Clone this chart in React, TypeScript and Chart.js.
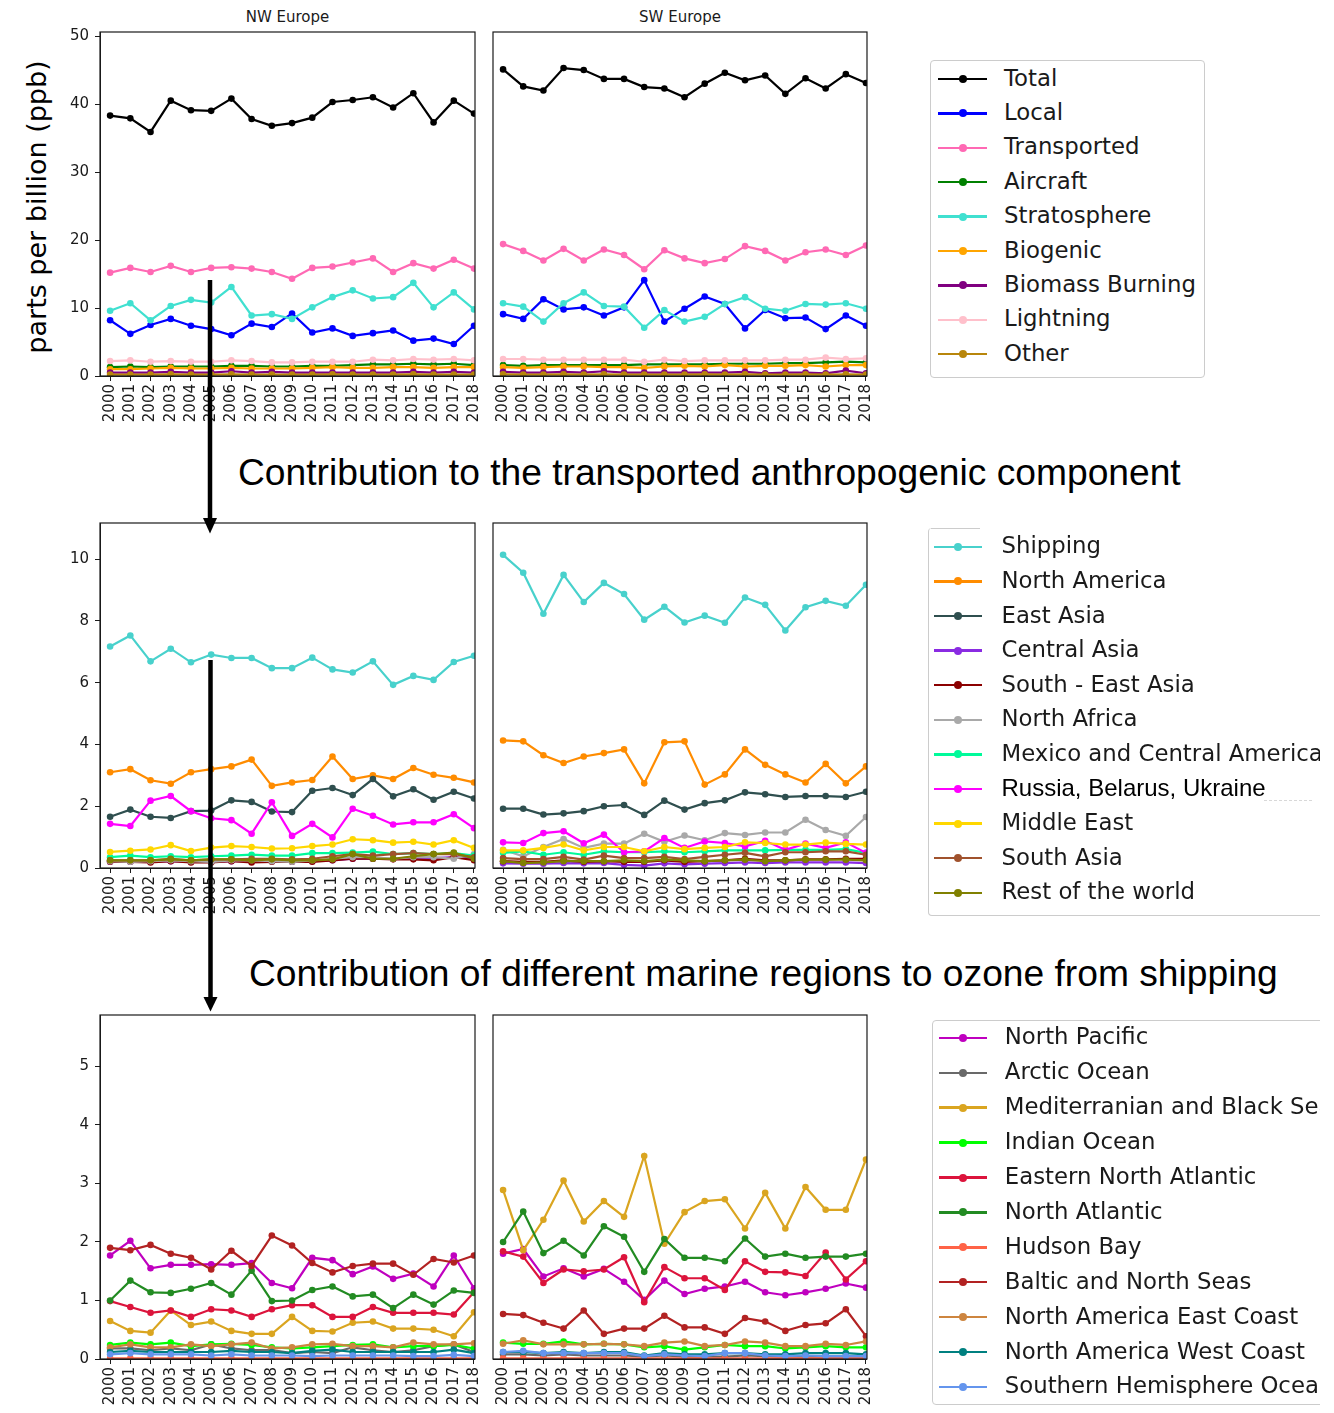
import React, { useEffect, useRef } from "react";
import { Chart, registerables } from "chart.js";

Chart.register(...registerables);
Chart.defaults.font.family = "'DejaVu Sans', sans-serif";

// ---------------- common ----------------
const years = [2000, 2001, 2002, 2003, 2004, 2005, 2006, 2007, 2008, 2009, 2010, 2011, 2012, 2013, 2014, 2015, 2016, 2017, 2018];
const panelTitles = ["NW Europe", "SW Europe"];
const yAxisLabel = "parts per billion (ppb)";
const caption1 = "Contribution to the transported anthropogenic component";
const caption2 = "Contribution of different marine regions to ozone from shipping";

// ---------------- row 1: total ozone components ----------------
const topLabels = ["Total", "Local", "Transported", "Aircraft", "Stratosphere", "Biogenic", "Biomass Burning", "Lightning", "Other"];
const topColors = ["#000000", "#0000ff", "#ff69b4", "#008000", "#40e0d0", "#ffa500", "#800080", "#ffc0cb", "#b8860b"];
const topTicks = [0, 10, 20, 30, 40, 50];

const nwTotal = [38.3, 37.9, 35.9, 40.5, 39.1, 39.0, 40.8, 37.8, 36.8, 37.2, 38.0, 40.3, 40.6, 41.0, 39.5, 41.6, 37.3, 40.5, 38.6];
const nwLocal = [8.2, 6.2, 7.5, 8.4, 7.4, 6.9, 6.0, 7.7, 7.2, 9.2, 6.4, 7.0, 5.9, 6.3, 6.7, 5.2, 5.5, 4.7, 7.4];
const nwTransported = [15.2, 15.9, 15.3, 16.2, 15.3, 15.9, 16.0, 15.8, 15.3, 14.3, 15.9, 16.1, 16.7, 17.3, 15.3, 16.6, 15.8, 17.1, 15.8];
const nwAircraft = [1.3, 1.4, 1.3, 1.4, 1.4, 1.4, 1.5, 1.5, 1.4, 1.4, 1.5, 1.5, 1.6, 1.7, 1.7, 1.8, 1.7, 1.8, 1.6];
const nwStratosphere = [9.6, 10.7, 8.2, 10.3, 11.2, 10.8, 13.1, 8.9, 9.1, 8.4, 10.1, 11.6, 12.6, 11.4, 11.6, 13.7, 10.1, 12.3, 9.8];
const nwBiogenic = [1.0, 1.0, 1.1, 1.2, 1.1, 1.1, 1.2, 1.1, 1.1, 1.1, 1.2, 1.3, 1.2, 1.2, 1.3, 1.3, 1.2, 1.3, 1.3];
const nwBiomass = [0.5, 0.5, 0.5, 0.6, 0.5, 0.5, 0.7, 0.5, 0.6, 0.5, 0.5, 0.5, 0.5, 0.5, 0.5, 0.6, 0.5, 0.6, 0.5];
const nwLightning = [2.2, 2.3, 2.1, 2.2, 2.1, 2.1, 2.3, 2.2, 2.0, 2.0, 2.1, 2.1, 2.1, 2.4, 2.3, 2.5, 2.4, 2.5, 2.3];
const nwOther = [0.2, 0.2, 0.2, 0.25, 0.2, 0.2, 0.25, 0.2, 0.2, 0.2, 0.2, 0.25, 0.2, 0.2, 0.2, 0.25, 0.2, 0.2, 0.2];

const swTotal = [45.1, 42.6, 42.0, 45.3, 45.0, 43.7, 43.7, 42.5, 42.3, 41.0, 43.0, 44.6, 43.5, 44.2, 41.5, 43.8, 42.3, 44.4, 43.1];
const swLocal = [9.1, 8.4, 11.3, 9.8, 10.1, 8.9, 10.1, 14.1, 8.0, 9.9, 11.7, 10.6, 7.0, 9.7, 8.5, 8.6, 6.9, 8.9, 7.4];
const swTransported = [19.4, 18.4, 17.0, 18.7, 17.0, 18.6, 17.8, 15.7, 18.5, 17.3, 16.6, 17.2, 19.1, 18.4, 17.0, 18.2, 18.6, 17.8, 19.2];
const swAircraft = [1.6, 1.5, 1.6, 1.6, 1.6, 1.6, 1.6, 1.7, 1.7, 1.7, 1.7, 1.8, 1.8, 1.8, 1.9, 1.9, 2.0, 2.1, 2.0];
const swStratosphere = [10.7, 10.2, 8.0, 10.7, 12.3, 10.3, 10.2, 7.1, 9.7, 8.0, 8.7, 10.6, 11.6, 9.9, 9.6, 10.6, 10.5, 10.7, 9.9];
const swBiogenic = [1.3, 1.2, 1.3, 1.4, 1.4, 1.3, 1.3, 1.2, 1.4, 1.5, 1.4, 1.6, 1.4, 1.5, 1.5, 1.6, 1.4, 1.6, 1.6];
const swBiomass = [0.6, 0.5, 0.5, 0.6, 0.5, 0.7, 0.5, 0.5, 0.5, 0.5, 0.5, 0.5, 0.6, 0.4, 0.5, 0.5, 0.4, 0.8, 0.4];
const swLightning = [2.5, 2.5, 2.4, 2.4, 2.4, 2.4, 2.4, 2.1, 2.4, 2.2, 2.3, 2.3, 2.3, 2.3, 2.4, 2.4, 2.7, 2.5, 2.6];
const swOther = [0.25, 0.2, 0.2, 0.25, 0.2, 0.25, 0.2, 0.2, 0.2, 0.2, 0.25, 0.2, 0.25, 0.2, 0.2, 0.25, 0.2, 0.25, 0.2];

// ---------------- row 2: transported anthropogenic ----------------
const midLabels = ["Shipping", "North America", "East Asia", "Central Asia", "South - East Asia", "North Africa", "Mexico and Central America", "Russia, Belarus, Ukraine", "Middle East", "South Asia", "Rest of the world"];
const midColors = ["#48d1cc", "#ff8c00", "#2f4f4f", "#8a2be2", "#8b0000", "#a9a9a9", "#00fa9a", "#ff00ff", "#ffd700", "#a0522d", "#808000"];
const midTicks = [0, 2, 4, 6, 8, 10];

const nwShipping = [7.17, 7.53, 6.69, 7.10, 6.66, 6.91, 6.80, 6.80, 6.47, 6.47, 6.81, 6.43, 6.33, 6.69, 5.93, 6.22, 6.09, 6.67, 6.87];
const nwNorthAmerica = [3.10, 3.20, 2.84, 2.73, 3.10, 3.20, 3.29, 3.51, 2.66, 2.77, 2.85, 3.61, 2.88, 3.00, 2.88, 3.24, 3.02, 2.92, 2.77];
const nwEastAsia = [1.66, 1.89, 1.66, 1.62, 1.84, 1.86, 2.19, 2.14, 1.83, 1.81, 2.50, 2.59, 2.36, 2.88, 2.32, 2.55, 2.21, 2.47, 2.25];
const nwCentralAsia = [0.20, 0.20, 0.20, 0.22, 0.20, 0.20, 0.22, 0.22, 0.22, 0.20, 0.22, 0.25, 0.30, 0.30, 0.30, 0.32, 0.32, 0.35, 0.30];
const nwSouthEastAsia = [0.20, 0.20, 0.18, 0.22, 0.18, 0.18, 0.22, 0.18, 0.20, 0.20, 0.20, 0.25, 0.30, 0.30, 0.28, 0.28, 0.25, 0.35, 0.25];
const nwNorthAfrica = [0.22, 0.20, 0.22, 0.25, 0.22, 0.20, 0.25, 0.25, 0.22, 0.20, 0.25, 0.30, 0.35, 0.35, 0.30, 0.35, 0.35, 0.30, 0.45];
const nwMexico = [0.35, 0.40, 0.35, 0.38, 0.35, 0.38, 0.40, 0.43, 0.40, 0.40, 0.48, 0.48, 0.50, 0.53, 0.45, 0.48, 0.45, 0.48, 0.40];
const nwRussia = [1.43, 1.36, 2.18, 2.33, 1.84, 1.61, 1.55, 1.11, 2.13, 1.04, 1.43, 0.99, 1.92, 1.69, 1.41, 1.48, 1.48, 1.74, 1.29];
const nwMiddleEast = [0.52, 0.56, 0.60, 0.74, 0.55, 0.66, 0.71, 0.68, 0.63, 0.64, 0.71, 0.76, 0.93, 0.90, 0.82, 0.85, 0.76, 0.90, 0.65];
const nwSouthAsia = [0.25, 0.25, 0.25, 0.30, 0.25, 0.28, 0.28, 0.30, 0.30, 0.28, 0.30, 0.38, 0.45, 0.40, 0.45, 0.48, 0.45, 0.45, 0.35];
const nwRestWorld = [0.25, 0.25, 0.25, 0.28, 0.25, 0.28, 0.28, 0.25, 0.28, 0.25, 0.25, 0.28, 0.45, 0.30, 0.30, 0.38, 0.45, 0.50, 0.30];

const swShipping = [10.14, 9.56, 8.23, 9.49, 8.61, 9.23, 8.87, 8.04, 8.46, 7.95, 8.17, 7.94, 8.76, 8.52, 7.69, 8.44, 8.65, 8.49, 9.17];
const swNorthAmerica = [4.13, 4.10, 3.65, 3.40, 3.61, 3.72, 3.84, 2.74, 4.07, 4.10, 2.70, 3.03, 3.84, 3.34, 3.03, 2.77, 3.37, 2.74, 3.29];
const swEastAsia = [1.92, 1.92, 1.73, 1.77, 1.84, 2.00, 2.04, 1.72, 2.18, 1.89, 2.10, 2.19, 2.45, 2.39, 2.30, 2.33, 2.33, 2.30, 2.47];
const swCentralAsia = [0.15, 0.14, 0.14, 0.16, 0.15, 0.16, 0.10, 0.08, 0.15, 0.12, 0.14, 0.16, 0.18, 0.16, 0.18, 0.18, 0.18, 0.18, 0.16];
const swSouthEastAsia = [0.22, 0.20, 0.20, 0.25, 0.20, 0.22, 0.20, 0.20, 0.25, 0.20, 0.22, 0.25, 0.30, 0.25, 0.25, 0.28, 0.28, 0.30, 0.30];
const swNorthAfrica = [0.59, 0.38, 0.68, 0.94, 0.65, 0.79, 0.79, 1.11, 0.85, 1.05, 0.90, 1.13, 1.07, 1.15, 1.15, 1.56, 1.23, 1.04, 1.65];
const swMexico = [0.49, 0.54, 0.43, 0.51, 0.43, 0.54, 0.51, 0.51, 0.54, 0.51, 0.54, 0.57, 0.57, 0.57, 0.59, 0.59, 0.59, 0.61, 0.49];
const swRussia = [0.83, 0.81, 1.13, 1.19, 0.80, 1.08, 0.51, 0.54, 0.97, 0.65, 0.86, 0.81, 0.70, 0.88, 0.59, 0.79, 0.65, 0.83, 0.49];
const swMiddleEast = [0.57, 0.57, 0.65, 0.76, 0.57, 0.68, 0.68, 0.54, 0.68, 0.61, 0.65, 0.68, 0.83, 0.81, 0.76, 0.76, 0.82, 0.78, 0.76];
const swSouthAsia = [0.32, 0.29, 0.29, 0.36, 0.27, 0.40, 0.32, 0.32, 0.36, 0.29, 0.36, 0.43, 0.49, 0.38, 0.51, 0.51, 0.54, 0.54, 0.43];
const swRestWorld = [0.22, 0.16, 0.18, 0.22, 0.22, 0.22, 0.25, 0.22, 0.27, 0.25, 0.22, 0.25, 0.27, 0.22, 0.25, 0.27, 0.27, 0.27, 0.25];

// ---------------- row 3: marine regions ----------------
const botLabels = ["North Pacific", "Arctic Ocean", "Mediterranian and Black Sea", "Indian Ocean", "Eastern North Atlantic", "North Atlantic", "Hudson Bay", "Baltic and North Seas", "North America East Coast", "North America West Coast", "Southern Hemisphere Ocean"];
const botColors = ["#bf00bf", "#696969", "#daa520", "#00ff00", "#dc143c", "#228b22", "#ff6347", "#b22222", "#cd853f", "#008080", "#6495ed"];
const botTicks = [0, 1, 2, 3, 4, 5];

const nwNorthPacific = [1.77, 2.02, 1.55, 1.61, 1.61, 1.62, 1.61, 1.64, 1.30, 1.21, 1.73, 1.69, 1.45, 1.58, 1.37, 1.46, 1.24, 1.77, 1.21];
const nwArctic = [0.18, 0.18, 0.15, 0.18, 0.15, 0.25, 0.18, 0.15, 0.15, 0.10, 0.12, 0.10, 0.20, 0.15, 0.12, 0.15, 0.22, 0.25, 0.12];
const nwMediterranean = [0.65, 0.48, 0.45, 0.83, 0.58, 0.64, 0.48, 0.43, 0.43, 0.72, 0.48, 0.47, 0.62, 0.64, 0.52, 0.52, 0.50, 0.39, 0.80];
const nwIndian = [0.24, 0.28, 0.25, 0.28, 0.22, 0.25, 0.26, 0.24, 0.20, 0.18, 0.20, 0.22, 0.24, 0.25, 0.20, 0.22, 0.22, 0.24, 0.18];
const nwEastNAtl = [0.99, 0.89, 0.79, 0.83, 0.72, 0.85, 0.83, 0.72, 0.85, 0.92, 0.92, 0.72, 0.72, 0.89, 0.79, 0.79, 0.79, 0.76, 1.14];
const nwNorthAtl = [1.00, 1.34, 1.14, 1.13, 1.20, 1.30, 1.10, 1.51, 0.99, 1.00, 1.18, 1.24, 1.07, 1.10, 0.87, 1.10, 0.93, 1.17, 1.13];
const nwHudson = [0.01, 0.01, 0.01, 0.01, 0.01, 0.01, 0.01, 0.01, 0.01, 0.01, 0.01, 0.01, 0.01, 0.01, 0.01, 0.01, 0.01, 0.01, 0.01];
const nwBaltic = [1.90, 1.86, 1.95, 1.80, 1.73, 1.53, 1.85, 1.59, 2.11, 1.94, 1.64, 1.48, 1.59, 1.63, 1.63, 1.44, 1.71, 1.65, 1.77];
const nwNAEast = [0.20, 0.25, 0.20, 0.20, 0.25, 0.22, 0.25, 0.28, 0.18, 0.20, 0.25, 0.26, 0.22, 0.22, 0.20, 0.28, 0.25, 0.25, 0.27];
const nwNAWest = [0.12, 0.14, 0.12, 0.12, 0.12, 0.12, 0.14, 0.12, 0.12, 0.10, 0.14, 0.16, 0.12, 0.12, 0.12, 0.12, 0.12, 0.16, 0.10];
const nwSouthHem = [0.08, 0.10, 0.08, 0.08, 0.08, 0.06, 0.08, 0.06, 0.06, 0.06, 0.05, 0.06, 0.06, 0.06, 0.06, 0.05, 0.05, 0.07, 0.05];

const swNorthPacific = [1.80, 1.88, 1.41, 1.55, 1.41, 1.54, 1.32, 1.01, 1.34, 1.11, 1.20, 1.24, 1.32, 1.14, 1.09, 1.14, 1.20, 1.29, 1.22];
const swArctic = [0.08, 0.08, 0.06, 0.08, 0.06, 0.06, 0.06, 0.04, 0.06, 0.04, 0.04, 0.04, 0.06, 0.05, 0.04, 0.04, 0.04, 0.04, 0.04];
const swMediterranean = [2.89, 1.86, 2.38, 3.05, 2.35, 2.70, 2.43, 3.47, 1.97, 2.51, 2.70, 2.73, 2.23, 2.84, 2.23, 2.94, 2.55, 2.55, 3.41];
const swIndian = [0.28, 0.26, 0.26, 0.30, 0.25, 0.26, 0.25, 0.20, 0.22, 0.16, 0.20, 0.24, 0.22, 0.22, 0.18, 0.20, 0.22, 0.20, 0.20];
const swEastNAtl = [1.84, 1.75, 1.30, 1.53, 1.50, 1.53, 1.74, 0.97, 1.57, 1.38, 1.38, 1.18, 1.67, 1.49, 1.48, 1.42, 1.82, 1.36, 1.67];
const swNorthAtl = [2.00, 2.52, 1.81, 2.02, 1.77, 2.27, 2.09, 1.49, 2.05, 1.73, 1.73, 1.67, 2.06, 1.75, 1.80, 1.73, 1.75, 1.75, 1.80];
const swHudson = [0.01, 0.01, 0.01, 0.01, 0.01, 0.01, 0.01, 0.01, 0.01, 0.01, 0.01, 0.01, 0.01, 0.01, 0.01, 0.01, 0.01, 0.01, 0.01];
const swBaltic = [0.77, 0.75, 0.62, 0.52, 0.83, 0.43, 0.52, 0.52, 0.74, 0.54, 0.54, 0.43, 0.70, 0.64, 0.48, 0.58, 0.61, 0.85, 0.39];
const swNAEast = [0.26, 0.32, 0.25, 0.25, 0.25, 0.26, 0.25, 0.22, 0.28, 0.30, 0.22, 0.24, 0.30, 0.28, 0.22, 0.22, 0.26, 0.24, 0.30];
const swNAWest = [0.12, 0.12, 0.10, 0.12, 0.10, 0.12, 0.12, 0.06, 0.10, 0.08, 0.08, 0.10, 0.10, 0.08, 0.08, 0.10, 0.10, 0.10, 0.08];
const swSouthHem = [0.12, 0.14, 0.10, 0.10, 0.10, 0.10, 0.10, 0.05, 0.08, 0.06, 0.05, 0.10, 0.10, 0.06, 0.05, 0.06, 0.05, 0.05, 0.05];

// ---------------- assembly ----------------
const nwTop = [nwTotal, nwLocal, nwTransported, nwAircraft, nwStratosphere, nwBiogenic, nwBiomass, nwLightning, nwOther];
const swTop = [swTotal, swLocal, swTransported, swAircraft, swStratosphere, swBiogenic, swBiomass, swLightning, swOther];
const nwMid = [nwShipping, nwNorthAmerica, nwEastAsia, nwCentralAsia, nwSouthEastAsia, nwNorthAfrica, nwMexico, nwRussia, nwMiddleEast, nwSouthAsia, nwRestWorld];
const swMid = [swShipping, swNorthAmerica, swEastAsia, swCentralAsia, swSouthEastAsia, swNorthAfrica, swMexico, swRussia, swMiddleEast, swSouthAsia, swRestWorld];
const nwBot = [nwNorthPacific, nwArctic, nwMediterranean, nwIndian, nwEastNAtl, nwNorthAtl, nwHudson, nwBaltic, nwNAEast, nwNAWest, nwSouthHem];
const swBot = [swNorthPacific, swArctic, swMediterranean, swIndian, swEastNAtl, swNorthAtl, swHudson, swBaltic, swNAEast, swNAWest, swSouthHem];

const TXT = "#1a1a1a";

const framePlugin = {
  id: "frame",
  afterDraw(chart: any) {
    const { ctx, chartArea: a } = chart;
    ctx.save();
    ctx.strokeStyle = TXT;
    ctx.lineWidth = 1.2;
    ctx.strokeRect(a.left, a.top, a.right - a.left, a.bottom - a.top);
    ctx.restore();
  },
};

type PanelProps = {
  values: number[][];
  labels: string[];
  colors: string[];
  L: number; T: number; R: number; B: number;
  yMax: number;
  yTicks: number[];
  showY: boolean;
};

function Panel({ values, labels, colors, L, T, R, B, yMax, yTicks, showY }: PanelProps) {
  const ref = useRef<HTMLCanvasElement>(null);
  const initW = R - L + 80;
  const initH = B - T + 90;
  useEffect(() => {
    const canvas = ref.current as HTMLCanvasElement;
    const n = values.length;
    const makeConfig = (): any => ({
      type: "line",
      data: {
        datasets: values.map((vals, i) => ({
          label: labels[i],
          data: years.map((x, j) => ({ x, y: vals[j] })),
          borderColor: colors[i],
          backgroundColor: colors[i],
          pointBackgroundColor: colors[i],
          pointBorderColor: colors[i],
          pointBorderWidth: 0,
          pointRadius: 3.3,
          borderWidth: 2.2,
          tension: 0,
          fill: false,
          clip: 0,
          order: n - i,
        })),
      },
      options: {
        responsive: false,
        animation: false,
        events: [],
        layout: { padding: { top: 4, right: 4, left: 4, bottom: 0 } },
        plugins: { legend: { display: false }, tooltip: { enabled: false } },
        scales: {
          x: {
            type: "linear",
            min: 1999.5,
            max: 2018.05,
            afterBuildTicks: (s: any) => { s.ticks = years.map((v) => ({ value: v })); },
            afterFit: (s: any) => { s.height = 60; },
            ticks: {
              autoSkip: false,
              minRotation: 90,
              maxRotation: 90,
              padding: 3,
              color: TXT,
              font: { size: 15 },
              callback: (v: any) => String(v),
            },
            grid: { drawOnChartArea: false, drawTicks: true, tickLength: 5, color: TXT },
            border: { display: true, color: TXT },
          },
          y: {
            display: showY,
            min: 0,
            max: yMax,
            afterBuildTicks: (s: any) => { s.ticks = yTicks.map((v) => ({ value: v })); },
            afterFit: (s: any) => { s.width = showY ? 50 : 0; },
            ticks: { padding: 6, color: TXT, font: { size: 15 }, callback: (v: any) => String(v) },
            grid: { drawOnChartArea: false, drawTicks: true, tickLength: 5, color: TXT },
            border: { display: true, color: TXT },
          },
        },
      },
      plugins: [framePlugin],
    });
    let w = initW;
    let h = initH;
    let chart: any = null;
    for (let pass = 0; pass < 3; pass++) {
      canvas.width = w;
      canvas.height = h;
      canvas.style.width = w + "px";
      canvas.style.height = h + "px";
      chart = new Chart(canvas, makeConfig());
      const a = chart.chartArea;
      const mL = a.left;
      const mT = a.top;
      const mR = w - a.right;
      const mB = h - a.bottom;
      canvas.style.left = L - mL + "px";
      canvas.style.top = T - mT + "px";
      const nw = Math.round(mL + (R - L) + mR);
      const nh = Math.round(mT + (B - T) + mB);
      if (nw === w && nh === h) break;
      if (pass < 2) {
        chart.destroy();
        w = nw;
        h = nh;
      }
    }
    return () => chart && chart.destroy();
  }, []);
  return (
    <canvas
      ref={ref}
      width={initW}
      height={initH}
      style={{ position: "absolute", left: L - 50, top: T - 10, width: initW, height: initH, display: "block" }}
    />
  );
}

type LegendProps = {
  labels: string[];
  colors: string[];
  box: { left: number; top: number; right: number; bottom: number };
  row0: number;
  gap: number;
  x1: number;
  x2: number;
  tx: number;
  special?: number;
  partialTop?: number;
};

function Legend({ labels, colors, box, row0, gap, x1, x2, tx, special, partialTop }: LegendProps) {
  return (
    <>
      <div
        style={{
          position: "absolute",
          left: box.left,
          top: box.top,
          width: box.right - box.left,
          height: box.bottom - box.top,
          border: "1px solid #cccccc",
          borderTop: partialTop ? "none" : "1px solid #cccccc",
          borderRadius: 4,
          boxSizing: "border-box",
          background: "#fff",
        }}
      />
      {partialTop ? (
        <div style={{ position: "absolute", left: box.left + 3, top: box.top, width: partialTop - box.left - 3, height: 1, background: "#cccccc" }} />
      ) : null}
      {labels.map((lab, i) => {
        const y = row0 + i * gap;
        const isSpecial = special === i;
        return (
          <React.Fragment key={lab}>
            <div style={{ position: "absolute", left: x1, top: y - 1.3, width: x2 - x1, height: 2.6, background: colors[i] }} />
            <div
              style={{
                position: "absolute",
                left: (x1 + x2) / 2 - 4,
                top: y - 4,
                width: 8,
                height: 8,
                borderRadius: 4,
                background: colors[i],
              }}
            />
            {isSpecial ? (
              <>
                <div
                  style={{
                    position: "absolute",
                    left: tx,
                    top: y - 15,
                    height: 28,
                    lineHeight: "28px",
                    fontFamily: "'Liberation Sans', Arial, sans-serif",
                    fontSize: 24,
                    color: "#000",
                    background: "#fff",
                    whiteSpace: "nowrap",
                    paddingRight: 4,
                  }}
                >
                  {lab}
                </div>
                <div style={{ position: "absolute", left: tx + 262, top: y + 11, width: 48, height: 0, borderTop: "1px dashed #d8d8d8" }} />
              </>
            ) : (
              <div
                style={{
                  position: "absolute",
                  left: tx,
                  top: y - 14.5,
                  height: 26,
                  lineHeight: "26px",
                  fontFamily: "'DejaVu Sans', sans-serif",
                  fontSize: 22.8,
                  color: TXT,
                  whiteSpace: "nowrap",
                }}
              >
                {lab}
              </div>
            )}
          </React.Fragment>
        );
      })}
    </>
  );
}

const P = {
  topY: [32, 376],
  midY: [523, 868],
  botY: [1015, 1359],
  leftX: [100, 475],
  rightX: [493, 867],
};

export default function App() {
  const textStyle: React.CSSProperties = {
    position: "absolute",
    whiteSpace: "nowrap",
    color: TXT,
  };
  return (
    <div style={{ position: "absolute", left: 0, top: 0, width: 1334, height: 1413, overflow: "hidden", background: "#fff" }}>
      {/* panel titles */}
      <div style={{ ...textStyle, left: P.leftX[0], width: P.leftX[1] - P.leftX[0], top: 10, textAlign: "center", fontFamily: "'DejaVu Sans', sans-serif", fontSize: 15, lineHeight: "15px" }}>{panelTitles[0]}</div>
      <div style={{ ...textStyle, left: P.rightX[0], width: P.rightX[1] - P.rightX[0], top: 10, textAlign: "center", fontFamily: "'DejaVu Sans', sans-serif", fontSize: 15, lineHeight: "15px" }}>{panelTitles[1]}</div>
      {/* y label */}
      <div
        style={{
          ...textStyle,
          left: 37 - 200,
          top: 207 - 15,
          width: 400,
          height: 30,
          lineHeight: "30px",
          textAlign: "center",
          fontFamily: "'DejaVu Sans', sans-serif",
          fontSize: 27,
          color: "#000",
          transform: "rotate(-90deg)",
        }}
      >
        {yAxisLabel}
      </div>

      <Panel values={nwTop} labels={topLabels} colors={topColors} L={P.leftX[0]} R={P.leftX[1]} T={P.topY[0]} B={P.topY[1]} yMax={50.6} yTicks={topTicks} showY={true} />
      <Panel values={swTop} labels={topLabels} colors={topColors} L={P.rightX[0]} R={P.rightX[1]} T={P.topY[0]} B={P.topY[1]} yMax={50.6} yTicks={topTicks} showY={false} />
      <Panel values={nwMid} labels={midLabels} colors={midColors} L={P.leftX[0]} R={P.leftX[1]} T={P.midY[0]} B={P.midY[1]} yMax={11.17} yTicks={midTicks} showY={true} />
      <Panel values={swMid} labels={midLabels} colors={midColors} L={P.rightX[0]} R={P.rightX[1]} T={P.midY[0]} B={P.midY[1]} yMax={11.17} yTicks={midTicks} showY={false} />
      <Panel values={nwBot} labels={botLabels} colors={botColors} L={P.leftX[0]} R={P.leftX[1]} T={P.botY[0]} B={P.botY[1]} yMax={5.88} yTicks={botTicks} showY={true} />
      <Panel values={swBot} labels={botLabels} colors={botColors} L={P.rightX[0]} R={P.rightX[1]} T={P.botY[0]} B={P.botY[1]} yMax={5.88} yTicks={botTicks} showY={false} />

      {/* captions */}
      <div style={{ ...textStyle, left: 238, top: 453.5, fontFamily: "'Liberation Sans', Arial, sans-serif", fontSize: 37.2, lineHeight: "37px", color: "#000" }}>{caption1}</div>
      <div style={{ ...textStyle, left: 249, top: 954.5, fontFamily: "'Liberation Sans', Arial, sans-serif", fontSize: 37.2, lineHeight: "37px", color: "#000" }}>{caption2}</div>

      {/* legends */}
      <Legend labels={topLabels} colors={topColors} box={{ left: 930, top: 60, right: 1205, bottom: 378 }} row0={79} gap={34.4} x1={938} x2={987} tx={1004} />
      <div style={{ position: "absolute", left: 0, top: 0, width: 1320, height: 1413, overflow: "hidden" }}>
        <Legend labels={midLabels} colors={midColors} box={{ left: 928, top: 528, right: 1400, bottom: 916 }} row0={546.8} gap={34.6} x1={934.4} x2={982} tx={1001.5} special={7} partialTop={980} />
        <Legend labels={botLabels} colors={botColors} box={{ left: 932, top: 1020, right: 1400, bottom: 1405 }} row0={1037.9} gap={34.9} x1={938.5} x2={987.3} tx={1004.8} />
      </div>

      {/* arrows */}
      <svg width={1334} height={1413} style={{ position: "absolute", left: 0, top: 0, pointerEvents: "none" }}>
        <line x1={210} y1={280} x2={210} y2={520} stroke="#000" strokeWidth={4.5} />
        <polygon points="203,518 217,518 210,533.5" fill="#000" />
        <line x1={210.5} y1={660} x2={210.5} y2={999} stroke="#000" strokeWidth={4.5} />
        <polygon points="203.5,997 217.5,997 210.5,1011.5" fill="#000" />
      </svg>
    </div>
  );
}
